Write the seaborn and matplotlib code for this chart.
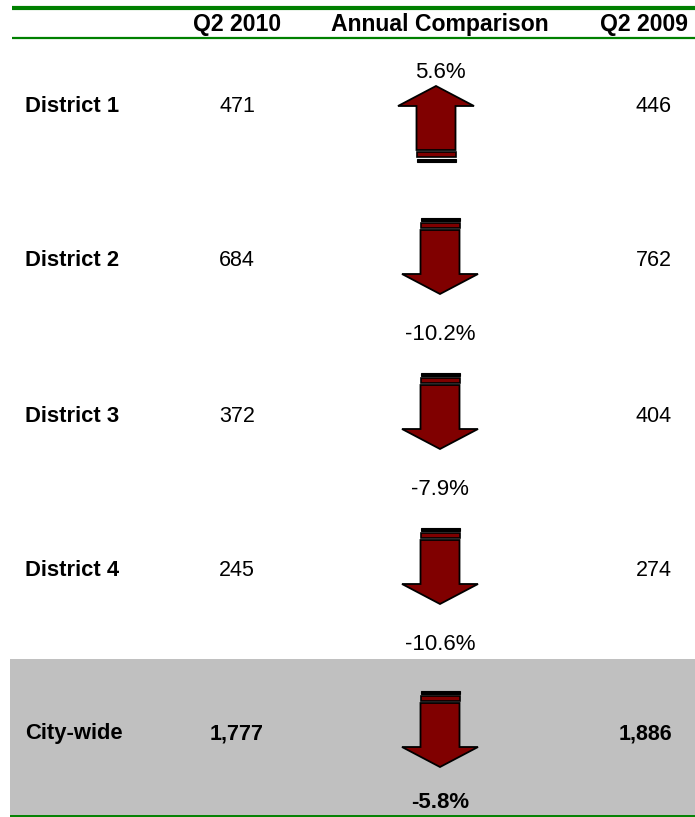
import matplotlib
matplotlib.use("Agg")
import matplotlib.pyplot as plt
from matplotlib.patches import Polygon, Rectangle
import seaborn as sns
import pandas as pd

# ---- data ----
districts = ["District 1", "District 2", "District 3", "District 4", "City-wide"]
q2_2010 = [471, 684, 372, 245, 1777]
q2_2009 = [446, 762, 404, 274, 1886]
pct_change = [5.6, -10.2, -7.9, -10.6, -5.8]
headers = ["Q2 2010", "Annual Comparison", "Q2 2009"]

df = pd.DataFrame({"district": districts, "q2010": q2_2010,
                   "q2009": q2_2009, "pct": pct_change})

sns.set_theme(style="white")
plt.rcParams["font.family"] = ["Liberation Sans", "DejaVu Sans"]
plt.rcParams["text.color"] = "black"

W, H = 695, 817
fig = plt.figure(figsize=(W / 100, H / 100), dpi=100)
ax = fig.add_axes([0, 0, 1, 1])
ax.set_xlim(0, W)
ax.set_ylim(H, 0)
ax.axis("off")
sns.despine(ax=ax, left=True, bottom=True)

GREEN = "#008000"
RED = "#800000"
GRAY = "#C0C0C0"

col_label_x = 25
col_2010_x = 237
col_arrow_x = 440
col_2009_x = 644
col_2009_right = 672

n = len(df)
row_y = [106 + 155 * i for i in range(n - 1)] + [106 + 155 * (n - 1) + 8]

# gray total band
ax.add_patch(Rectangle((10, row_y[-1] - 75), W - 10, 815 - (row_y[-1] - 75),
                       facecolor=GRAY, edgecolor="none", zorder=0))

# green rules
ax.plot([12, W], [8, 8], color=GREEN, lw=3.0, solid_capstyle="butt")
ax.plot([12, W], [38, 38], color=GREEN, lw=1.6, solid_capstyle="butt")
ax.plot([10, W], [816, 816], color=GREEN, lw=1.4, solid_capstyle="butt")

# headers
for x, h in zip([col_2010_x, col_arrow_x, col_2009_x], headers):
    ax.text(x, 24, h, ha="center", va="center", fontsize=16.6,
            fontweight="bold", color="black")


def draw_arrow(cx, cy, up):
    s = -1 if up else 1
    hs, hh = 19.5, 38
    pts = [(-hs, -26), (hs, -26), (hs, 18), (hh, 18), (0, 38), (-hh, 18), (-hs, 18)]
    ax.add_patch(Polygon([(cx + px, cy + s * py) for px, py in pts], closed=True,
                         facecolor=RED, edgecolor="black", lw=1.3, joinstyle="miter",
                         zorder=3))
    # stripes
    y1a, y1b = cy + s * -38, cy + s * -35
    ax.add_patch(Rectangle((cx - hs, min(y1a, y1b)), 2 * hs, 3,
                           facecolor="black", edgecolor="black", lw=0.8, zorder=3))
    y2a, y2b = cy + s * -33, cy + s * -28
    ax.add_patch(Rectangle((cx - hs, min(y2a, y2b)), 2 * hs, 5,
                           facecolor=RED, edgecolor="black", lw=1.2, zorder=3))


for i, r in df.iterrows():
    y = row_y[i]
    total = r["district"] == "City-wide"
    fw = "bold" if total else "normal"
    ax.text(col_label_x, y, r["district"], ha="left", va="center",
            fontsize=15.8, fontweight="bold", color="black")
    ax.text(col_2010_x, y, f"{r['q2010']:,}", ha="center", va="center",
            fontsize=15.5, fontweight=fw, color="black")
    ax.text(col_2009_right, y, f"{r['q2009']:,}", ha="right", va="center",
            fontsize=15.5, fontweight=fw, color="black")
    up = r["pct"] > 0
    if up:
        draw_arrow(col_arrow_x - 4, y + 18, True)
        ly = y - 34
    else:
        draw_arrow(col_arrow_x, y - 5, False)
        ly = y + 73 if not total else y + 69
    ax.text(col_arrow_x, ly, f"{r['pct']:.1f}%", ha="center", va="center",
            fontsize=16, fontweight=fw, color="black")

fig.savefig("out.png", dpi=100)
